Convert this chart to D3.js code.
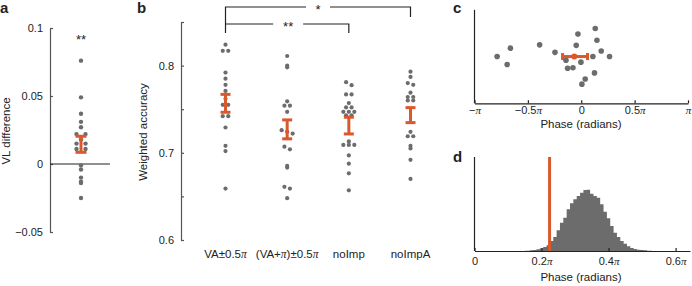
<!DOCTYPE html>
<html>
<head>
<meta charset="utf-8">
<script src="https://cdn.jsdelivr.net/npm/d3@7"></script>
<style>
  body { margin: 0; background: #fff; }
  text { font-family: "Liberation Sans", Arial, sans-serif; fill: #222; }
</style>
</head>
<body>
<div id="chart"></div>
<script>
// panel a: VL difference per subject
const vlDiff = [0.076, 0.049, 0.037, 0.031, 0.027, 0.022, 0.022, 0.018, 0.015, 0.015,
                0.011, 0.011, -0.001, -0.004, -0.010, -0.013, -0.014, -0.025];
const vlStats = {mean: 0.0145, lo: 0.0086, hi: 0.0204};

// panel b: weighted accuracy per condition
const cats = ["VA±0.5π", "(VA+π)±0.5π", "noImp", "noImpA"];
const accVA = [0.824, 0.817, 0.817, 0.792, 0.785, 0.778, 0.771, 0.762, 0.755, 0.755,
               0.742, 0.742, 0.729, 0.708, 0.702, 0.659];
const accVApi = [0.811, 0.800, 0.798, 0.759, 0.754, 0.754, 0.747, 0.726, 0.724, 0.722,
                 0.707, 0.704, 0.685, 0.683, 0.661, 0.659, 0.648];
const accNoImp = [0.781, 0.7775, 0.767, 0.767, 0.757, 0.752, 0.752, 0.747, 0.747, 0.747,
                  0.743, 0.743, 0.713, 0.709, 0.709, 0.709, 0.697, 0.6875, 0.6765, 0.657];
const accNoImpA = [0.793, 0.787, 0.780, 0.778, 0.769, 0.764, 0.764, 0.760, 0.760, 0.724,
                   0.719, 0.719, 0.708, 0.705, 0.692, 0.670];
const accMean = [0.757, 0.727, 0.731, 0.743];
const accLo = [0.7465, 0.716, 0.7216, 0.7346];
const accHi = [0.767, 0.7377, 0.7408, 0.7518];

// panel c: phase (units of pi) and vertical jitter
const phases = [-0.788, -0.664, -0.694, -0.39, -0.246, -0.031, -0.047, -0.143, -0.128, -0.078,
                -0.003, 0.109, 0.131, 0.147, 0.187, 0.265, 0.124, 0.037, 0.006];
const jitter = [0.0, 0.18, -0.17, 0.25, 0.09, 0.48, 0.24, -0.08, -0.25, -0.24,
                -0.12, 0.0, 0.6, 0.35, 0.12, 0.0, -0.35, -0.48, -0.59];
const phaseStats = {mean: -0.065, lo: -0.175, hi: 0.059};

// panel d: null distribution histogram (bin centres in units of pi)
const binCenters = [0.15, 0.16, 0.17, 0.18, 0.19, 0.20, 0.21, 0.22, 0.23, 0.24, 0.25, 0.26, 0.27,
                    0.28, 0.29, 0.30, 0.31, 0.32, 0.33, 0.34, 0.35, 0.36, 0.37, 0.38, 0.39, 0.40,
                    0.41, 0.42, 0.43, 0.44, 0.45, 0.46, 0.47, 0.48, 0.49, 0.50, 0.51, 0.52, 0.53];
const binCounts = [0.5, 1, 2, 3, 5, 8, 12, 17, 30, 42, 62, 85, 100, 125, 143, 155, 165, 175, 183,
                   184, 172, 165, 160, 140, 118, 98, 75, 55, 42, 30, 22, 14, 9, 6, 4, 3, 2, 1, 0.5];
const observedPhase = 0.224;

const orange = "#d9582c";
const grey = "#6c6c6c";

const svg = d3.select("#chart").append("svg")
    .attr("width", 692)
    .attr("height", 286);

function piText(t, s) {
  t.text(null);
  const parts = s.split("π");
  parts.forEach((p, i) => {
    if (p) t.append("tspan").text(p);
    if (i < parts.length - 1) {
      t.append("tspan").attr("font-family", "Liberation Serif").attr("font-style", "italic").text("π");
    }
  });
}

// spread points sideways when they share a y bin
function spread(vals, y, cx, step, bin) {
  const pts = vals.map(v => ({v: v, y: y(v)}));
  d3.groups(pts, p => Math.round(p.y / bin)).forEach(([, g]) => {
    g.forEach((p, i) => { p.x = cx + (i - (g.length - 1) / 2) * step; });
  });
  return pts;
}

function styleAxis(g, col) {
  g.select(".domain").attr("stroke", col).attr("stroke-width", 1.2);
  g.selectAll(".tick line").attr("stroke", col).attr("stroke-width", 1.2);
  g.selectAll(".tick text").attr("font-size", 11).attr("fill", "#222")
    .attr("font-family", "Liberation Sans, Arial, sans-serif");
}

function errBarV(g, x, lo, hi, w) {
  g.append("line").attr("x1", x).attr("x2", x).attr("y1", lo).attr("y2", hi)
    .attr("stroke", orange).attr("stroke-width", 3);
  [lo, hi].forEach(yy => g.append("line")
    .attr("x1", x - w / 2).attr("x2", x + w / 2).attr("y1", yy).attr("y2", yy)
    .attr("stroke", orange).attr("stroke-width", 3));
}

function panelLabel(s, x, y) {
  svg.append("text").attr("x", x).attr("y", y).attr("font-size", 15)
    .attr("font-weight", "bold").text(s);
}

// ---------- panel a ----------
const yA = d3.scaleLinear().domain([-0.05, 0.1]).range([232, 28]);
const gA = svg.append("g");
gA.append("g").attr("transform", "translate(50,0)")
  .call(d3.axisLeft(yA).tickValues([-0.05, 0, 0.05, 0.1]).tickFormat(d3.format(""))
    .tickSizeInner(-3).tickSizeOuter(0).tickPadding(7))
  .call(g => styleAxis(g, "#555"));
gA.append("line").attr("x1", 50).attr("x2", 110).attr("y1", yA(0)).attr("y2", yA(0))
  .attr("stroke", "#222").attr("stroke-width", 1.2);
gA.selectAll("circle").data(spread(vlDiff, yA, 81, 9, 4)).join("circle")
  .attr("cx", d => d.x).attr("cy", d => d.y).attr("r", 2.2).attr("fill", grey);
errBarV(gA, 81, yA(vlStats.lo), yA(vlStats.hi), 11);
gA.append("text").attr("x", 81).attr("y", 44).attr("text-anchor", "middle")
  .attr("font-size", 13).text("**");
gA.append("text").attr("transform", "translate(10,131) rotate(-90)")
  .attr("text-anchor", "middle").attr("font-size", 11.5).text("VL difference");
panelLabel("a", 0, 13);

// ---------- panel b ----------
const yB = d3.scaleLinear().domain([0.6, 0.85]).range([240, 22]);
const xB = d3.scalePoint().domain(cats).range([225.5, 410.5]);
const gB = svg.append("g");
gB.append("g").attr("transform", "translate(181,0)")
  .call(d3.axisLeft(yB).tickValues([0.6, 0.65, 0.7, 0.75, 0.8, 0.85])
    .tickFormat(d => [0.6, 0.7, 0.8].some(v => Math.abs(v - d) < 1e-9) ? d3.format(".1f")(d) : "")
    .tickSizeInner(-3).tickSizeOuter(0).tickPadding(7))
  .call(g => styleAxis(g, "#555"));
[accVA, accVApi, accNoImp, accNoImpA].forEach((vals, i) => {
  const cx = xB(cats[i]);
  gB.append("g").selectAll("circle").data(spread(vals, yB, cx, 5.5, 4)).join("circle")
    .attr("cx", d => d.x).attr("cy", d => d.y).attr("r", 2.1).attr("fill", grey);
  errBarV(gB, cx, yB(accLo[i]), yB(accHi[i]), 10);
});
gB.selectAll(".cat").data(cats).join("text").attr("class", "cat")
  .attr("x", d => xB(d)).attr("y", 258).attr("text-anchor", "middle").attr("font-size", 11.5)
  .each(function(d) { piText(d3.select(this), d); });
gB.append("text").attr("transform", "translate(147,132) rotate(-90)")
  .attr("text-anchor", "middle").attr("font-size", 11.5).text("Weighted accuracy");

// significance brackets
const xs1 = (xB(cats[0]) + xB(cats[3])) / 2;
const xs2 = (xB(cats[0]) + xB(cats[2])) / 2;
const br = gB.append("g").attr("fill", "none").attr("stroke", "#222").attr("stroke-width", 1.2);
br.append("path").attr("d", `M${xB(cats[0])},33V7H${xs1 - 12}M${xs1 + 12},7H${xB(cats[3])}V17`);
br.append("path").attr("d", `M${xB(cats[0])},24H${xs2 - 14}M${xs2 + 16},24H${xB(cats[2])}V33`);
gB.append("text").attr("x", xs1).attr("y", 14).attr("text-anchor", "middle").attr("font-size", 13).text("*");
gB.append("text").attr("x", xs2 + 1).attr("y", 31).attr("text-anchor", "middle").attr("font-size", 13).text("**");
panelLabel("b", 137, 13);

// ---------- panel c ----------
const xC = d3.scaleLinear().domain([-1, 1]).range([474.5, 688]);
const yC = d3.scaleLinear().domain([-1, 1]).range([103.3, 9.8]);
const gC = svg.append("g");
const piFmt = d => d === 0 ? "0" : d === 1 ? "π" : d === -1 ? "−π" : d3.format("")(d) + "π";
gC.append("g").attr("transform", "translate(0,103.3)")
  .call(d3.axisBottom(xC).tickValues([-1, -0.5, 0, 0.5, 1]).tickFormat(piFmt)
    .tickSizeInner(-3).tickSizeOuter(0).tickPadding(3))
  .call(g => styleAxis(g, "#222"))
  .call(g => g.selectAll(".tick text").each(function(d) { piText(d3.select(this), piFmt(d)); }));
gC.append("line").attr("x1", 474.5).attr("x2", 474.5).attr("y1", 9.8).attr("y2", 103.3)
  .attr("stroke", "#222").attr("stroke-width", 1.2);
gC.selectAll("circle.pt").data(phases).join("circle").attr("class", "pt")
  .attr("cx", d => xC(d)).attr("cy", (d, i) => yC(jitter[i])).attr("r", 2.8).attr("fill", grey);
const yc0 = yC(0);
gC.append("line").attr("x1", xC(phaseStats.lo)).attr("x2", xC(phaseStats.hi))
  .attr("y1", yc0).attr("y2", yc0).attr("stroke", orange).attr("stroke-width", 3);
[phaseStats.lo, phaseStats.hi].forEach(v => gC.append("line")
  .attr("x1", xC(v)).attr("x2", xC(v)).attr("y1", yc0 - 3.5).attr("y2", yc0 + 3.5)
  .attr("stroke", orange).attr("stroke-width", 3));
gC.append("circle").attr("cx", xC(phaseStats.mean)).attr("cy", yc0).attr("r", 3).attr("fill", orange);
gC.append("text").attr("x", 581).attr("y", 128).attr("text-anchor", "middle")
  .attr("font-size", 11.5).text("Phase (radians)");
panelLabel("c", 453, 13);

// ---------- panel d ----------
const xD = d3.scaleLinear().domain([0, 0.643]).range([474.5, 690]);
const yD = d3.scaleLinear().domain([0, 282]).range([251, 157]);
const gD = svg.append("g");
const area = d3.area().curve(d3.curveStep)
  .x(d => xD(d[0])).y0(yD(0)).y1(d => yD(d[1]));
gD.append("path").datum(d3.zip(binCenters, binCounts)).attr("d", area).attr("fill", grey);
gD.append("line").attr("x1", xD(observedPhase)).attr("x2", xD(observedPhase))
  .attr("y1", yD(0)).attr("y2", 157).attr("stroke", orange).attr("stroke-width", 3);
const piFmtD = d => d === 0 ? "0" : d3.format(".1f")(d) + "π";
gD.append("g").attr("transform", "translate(0,251)")
  .call(d3.axisBottom(xD).tickValues([0, 0.2, 0.4, 0.6]).tickFormat(piFmtD)
    .tickSizeInner(-3).tickSizeOuter(0).tickPadding(6))
  .call(g => styleAxis(g, "#222"))
  .call(g => g.selectAll(".tick text").each(function(d) { piText(d3.select(this), piFmtD(d)); }));
gD.append("line").attr("x1", 474.5).attr("x2", 474.5).attr("y1", 157).attr("y2", 251)
  .attr("stroke", "#222").attr("stroke-width", 1.2);
gD.append("text").attr("x", 581).attr("y", 281).attr("text-anchor", "middle")
  .attr("font-size", 11.5).text("Phase (radians)");
panelLabel("d", 453, 162);
</script>
</body>
</html>
